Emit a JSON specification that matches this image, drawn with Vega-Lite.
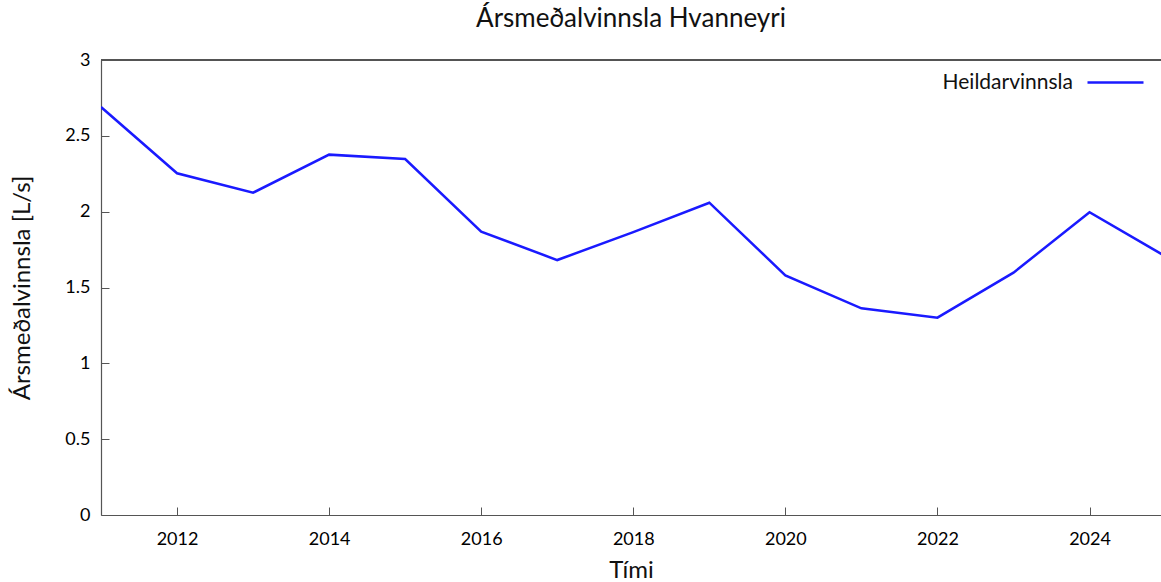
{
  "$schema": "https://vega.github.io/schema/vega-lite/v6.json",
  "width": 1060,
  "height": 455,
  "autosize": {"type": "none"},
  "padding": {"left": 101, "top": 60, "right": 0, "bottom": 67},
  "background": "white",
  "config": {
    "view": {"stroke": null},
    "font": "Lato",
    "axis": {"grid": false, "domainColor": "#555555", "tickColor": "#555555", "labelFont": "Lato", "labelFontSize": 18, "labelColor": "#000000", "titleFont": "Lato", "titleFontSize": 24, "titleFontWeight": "normal", "titleColor": "#111111", "tickSize": -8, "tickWidth": 1, "domainWidth": 1.2}
  },
  "title": {"text": "Ársmeðalvinnsla Hvanneyri", "font": "Lato", "fontSize": 26, "fontWeight": "normal", "color": "#111111", "offset": 19, "anchor": "middle"},
  "data": {"values": [
    {"year": 2011, "value": 2.69},
    {"year": 2012, "value": 2.253},
    {"year": 2013, "value": 2.125},
    {"year": 2014, "value": 2.376},
    {"year": 2015, "value": 2.347},
    {"year": 2016, "value": 1.868},
    {"year": 2017, "value": 1.681},
    {"year": 2018, "value": 1.865},
    {"year": 2019, "value": 2.059},
    {"year": 2020, "value": 1.58},
    {"year": 2021, "value": 1.363},
    {"year": 2022, "value": 1.301},
    {"year": 2023, "value": 1.598},
    {"year": 2024, "value": 1.996},
    {"year": 2025, "value": 1.705}
  ]},
  "layer": [
    {
      "mark": {"type": "line", "strokeWidth": 2.5, "clip": true, "interpolate": "linear"},
      "encoding": {
        "x": {"field": "year", "type": "quantitative", "scale": {"domain": [2011, 2024.94], "nice": false, "zero": false},
              "axis": {"title": "Tími", "values": [2012, 2014, 2016, 2018, 2020, 2022, 2024], "format": "d", "labelPadding": 23, "titlePadding": 10}},
        "y": {"field": "value", "type": "quantitative", "scale": {"domain": [0, 3], "nice": false},
              "axis": {"title": "Ársmeðalvinnsla [L/s]", "values": [0, 0.5, 1, 1.5, 2, 2.5, 3], "format": "~g", "labelPadding": 19, "titlePadding": 30}},
        "color": {"datum": "Heildarvinnsla", "type": "nominal",
                  "scale": {"range": ["#1a1aff"]},
                  "legend": {"title": null, "orient": "none", "legendX": 985, "legendY": -7, "symbolType": "stroke", "symbolSize": 3136, "symbolStrokeWidth": 2.5, "labelAlign": "right", "labelOffset": -72, "labelFont": "Lato", "labelFontSize": 21, "labelColor": "#111111", "labelLimit": 300}}
      }
    },
    {
      "mark": {"type": "rule", "color": "#555555", "strokeWidth": 1.2},
      "encoding": {"y": {"datum": 3}}
    }
  ]
}
